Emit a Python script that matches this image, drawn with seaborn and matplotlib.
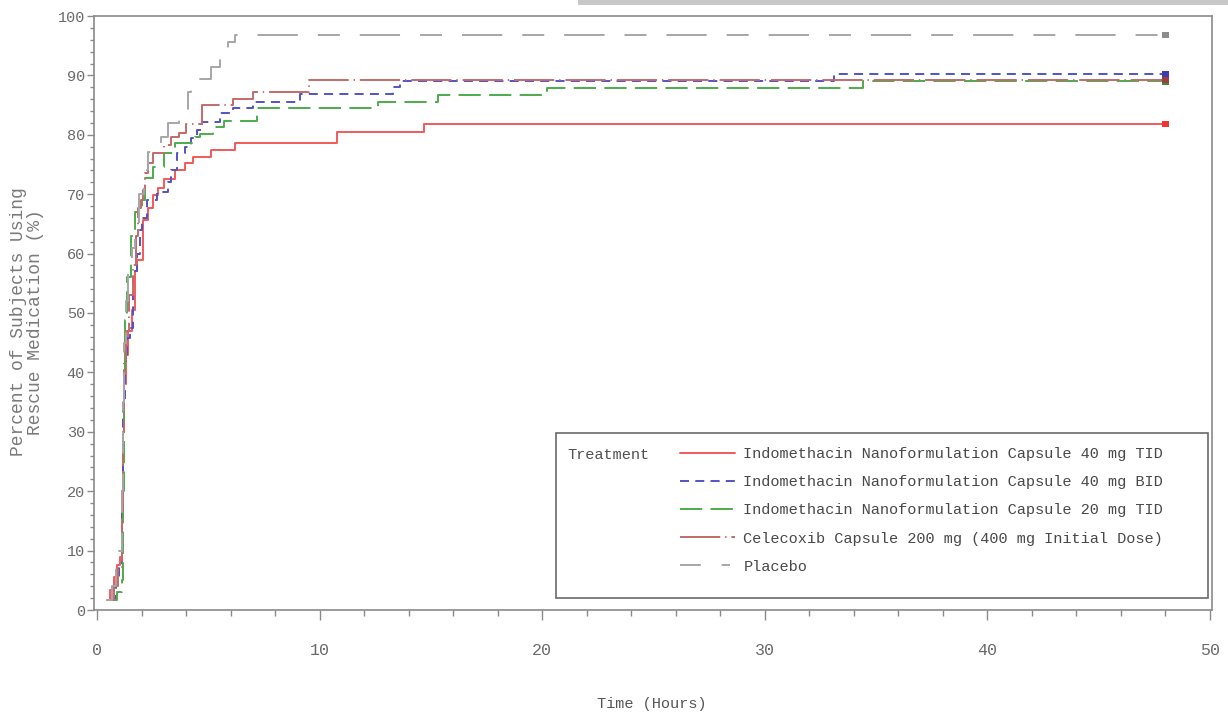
import numpy as np
import pandas as pd
import matplotlib
matplotlib.use("Agg")
import matplotlib.pyplot as plt
import seaborn as sns
from matplotlib.lines import Line2D
from matplotlib.patches import Rectangle
from matplotlib.ticker import MultipleLocator

# ---------------- data ----------------
treatments = [
    "Indomethacin Nanoformulation Capsule 40 mg TID",
    "Indomethacin Nanoformulation Capsule 40 mg BID",
    "Indomethacin Nanoformulation Capsule 20 mg TID",
    "Celecoxib Capsule 200 mg (400 mg Initial Dose)",
    "Placebo",
]

t_tid40 = [0.45, 0.6, 0.75, 0.9, 1.05, 1.12, 1.18, 1.22, 1.3, 1.4, 1.57, 1.7, 1.8, 2.07,
           2.3, 2.5, 2.75, 3.0, 3.5, 3.95, 4.3, 5.1, 6.2, 10.8, 14.7, 48.0]
p_tid40 = [1.7, 3.4, 5.5, 7.5, 9.0, 20.0, 30.0, 38.0, 43.0, 47.0, 50.5, 57.0, 59.0, 65.7,
           67.7, 69.9, 71.0, 72.5, 74.1, 75.3, 76.3, 77.4, 78.6, 80.4, 81.8, 81.8]

t_bid40 = [0.65, 0.85, 1.0, 1.1, 1.18, 1.25, 1.35, 1.48, 1.6, 1.8, 1.93, 2.0, 2.25, 2.7,
           3.2, 3.3, 3.6, 3.95, 4.2, 4.5, 4.7, 5.5, 6.1, 7.0, 9.1, 13.3, 13.6, 33.1, 48.0]
p_bid40 = [1.7, 5.0, 7.0, 20.0, 35.0, 42.0, 45.8, 47.5, 57.0, 60.0, 64.0, 66.0, 69.0, 70.4,
           72.0, 74.0, 77.0, 78.0, 79.5, 80.8, 82.2, 83.7, 84.5, 85.5, 86.9, 88.0, 89.1, 90.2, 90.2]

t_tid20 = [0.5, 0.9, 1.1, 1.15, 1.2, 1.26, 1.35, 1.5, 1.7, 2.0, 2.15, 2.5, 3.0, 3.5, 4.4,
           4.6, 5.2, 5.7, 7.2, 12.6, 15.3, 20.2, 34.4, 48.0]
p_tid20 = [1.7, 3.0, 5.0, 20.0, 40.0, 48.8, 56.0, 63.0, 67.0, 69.0, 72.7, 74.6, 77.0, 78.6, 79.6,
           80.1, 81.3, 82.3, 84.5, 85.5, 86.7, 87.9, 89.0, 89.0]

t_celecoxib = [0.55, 0.75, 0.95, 1.1, 1.15, 1.2, 1.3, 1.45, 1.6, 1.75, 1.85, 1.95, 2.07, 2.15,
               2.3, 2.5, 3.0, 3.3, 3.7, 4.0, 4.7, 6.1, 7.0, 9.5, 48.0]
p_celecoxib = [1.7, 4.0, 7.0, 15.0, 30.0, 42.0, 47.0, 53.0, 58.0, 63.0, 67.7, 69.0, 70.7, 73.6,
               75.3, 77.0, 78.3, 79.6, 80.3, 81.8, 85.1, 86.0, 87.2, 89.2, 89.2]

t_placebo = [0.45, 0.65, 0.85, 1.0, 1.1, 1.15, 1.2, 1.3, 1.4, 1.55, 1.7, 1.9, 2.1, 2.3, 2.85,
             3.2, 3.7, 4.1, 4.2, 5.1, 5.5, 5.9, 6.2, 48.0]
p_placebo = [1.7, 4.0, 7.5, 10.0, 20.0, 35.0, 45.0, 52.0, 58.0, 61.0, 64.0, 70.0, 74.0, 77.1, 79.6,
             82.0, 84.0, 87.2, 89.4, 91.4, 93.8, 95.6, 96.8, 96.8]

times = [t_tid40, t_bid40, t_tid20, t_celecoxib, t_placebo]
pcts = [p_tid40, p_bid40, p_tid20, p_celecoxib, p_placebo]

x_ticks = [0, 10, 20, 30, 40, 50]
y_ticks = [0, 10, 20, 30, 40, 50, 60, 70, 80, 90, 100]

# ---------------- styles ----------------
colors = ["#f25a5a", "#5252c4", "#4cac4c", "#c46a6a", "#a6a6a6"]
marker_colors = ["#f03434", "#3c3cb4", "#3c8c3c", "#a03c3c", "#8c8c8c"]
dash_list = ["", (6.5, 4.5), (16, 6), (29, 3.5, 1, 3.5), (29, 14.4, 15.8, 14.4)]
legend_dash_list = ["", (6.5, 4.5), (16, 6), (29, 3.5, 1, 3.5), (15, 15, 6, 15)]
palette = dict(zip(treatments, colors))
mpalette = dict(zip(treatments, marker_colors))
dash_map = dict(zip(treatments, dash_list))

sns.set_theme(style="white")
plt.rcParams["font.family"] = ["Liberation Mono", "DejaVu Sans"]
plt.rcParams["lines.scale_dashes"] = False

frames = [pd.DataFrame({"Time": t, "Pct": p, "Treatment": n})
          for n, t, p in zip(treatments, times, pcts)]
df = pd.concat(frames, ignore_index=True)

W, H = 1228, 715
fig = plt.figure(figsize=(W / 100, H / 100), dpi=100)
ax_l, ax_r, ax_t, ax_b = 94, 1212, 16, 610
ax = fig.add_axes([ax_l / W, 1 - ax_b / H, (ax_r - ax_l) / W, (ax_b - ax_t) / H])

sns.lineplot(data=df, x="Time", y="Pct", hue="Treatment", style="Treatment",
             hue_order=treatments, style_order=treatments,
             palette=palette, dashes=dash_map, estimator=None, sort=False,
             drawstyle="steps-post", linewidth=1.4, legend=False, ax=ax)

last = df.groupby("Treatment", sort=False).tail(1)
sns.scatterplot(data=last, x="Time", y="Pct", hue="Treatment", palette=mpalette,
                marker="s", s=22, edgecolor="none", legend=False, ax=ax, zorder=5)

ax.set_xlim(-0.14, 50.09)
ax.set_ylim(0, 100)
ax.set_xticks(x_ticks)
ax.set_yticks(y_ticks)
ax.xaxis.set_minor_locator(MultipleLocator(2))
ax.yaxis.set_minor_locator(MultipleLocator(2))

spine_c = "#8a8a8a"
for s in ax.spines.values():
    s.set_visible(True)
    s.set_color(spine_c)
    s.set_linewidth(1.2)

ax.tick_params(which="both", bottom=True, left=True, top=False, right=False,
               direction="out", color=spine_c, width=1.0)
ax.tick_params(axis="x", which="major", length=7, pad=17, labelsize=12, labelcolor="#6a6a6a")
ax.tick_params(axis="x", which="minor", length=4)
ax.tick_params(axis="y", which="major", length=5, pad=1.5, labelsize=11, labelcolor="#6a6a6a")
ax.tick_params(axis="y", which="minor", length=3)

ax.set_xlabel("Time (Hours)", fontsize=11, color="#555555")
ax.set_ylabel("Percent of Subjects Using\nRescue Medication (%)", fontsize=13,
              color="#7a7a7a", linespacing=1.0)
ax.xaxis.set_label_coords((652 - ax_l) / (ax_r - ax_l), (ax_b - 697) / (ax_b - ax_t))
ax.yaxis.set_label_coords((44 - ax_l) / (ax_r - ax_l), (ax_b - 322) / (ax_b - ax_t))

# ---------------- legend ----------------
def axx(px):
    return (px - ax_l) / (ax_r - ax_l)

def axy(py):
    return (ax_b - py) / (ax_b - ax_t)

box = Rectangle((axx(556), axy(598)), axx(1208) - axx(556), axy(433) - axy(598),
                transform=ax.transAxes, fill=True, facecolor="white",
                edgecolor="#6a6a6a", linewidth=1.2, zorder=6)
ax.add_patch(box)
ax.text(axx(567), axy(455), "Treatment", transform=ax.transAxes, ha="left", va="center",
        fontsize=11, color="#505050", zorder=7)

handles = []
for n, d in zip(treatments, legend_dash_list):
    h = Line2D([], [], color=palette[n], linewidth=1.4)
    if d != "":
        h.set_dashes(d)
    handles.append(h)
leg = ax.legend(handles, treatments, loc="upper left",
                bbox_to_anchor=(axx(680), axy(447)), bbox_transform=ax.transAxes,
                frameon=False, fontsize=11, handlelength=3.6, handletextpad=0.55,
                labelspacing=0.93, borderpad=0, borderaxespad=0)
leg.set_zorder(8)
for txt in leg.get_texts():
    txt.set_color("#484848")

# gray band at top right of the reference screenshot
fig.patches.append(Rectangle((578 / W, 1 - 5 / H), (W - 578) / W, 5 / H,
                             transform=fig.transFigure, facecolor="#c8c8c8",
                             edgecolor="none"))

fig.savefig("out.png", dpi=100)
